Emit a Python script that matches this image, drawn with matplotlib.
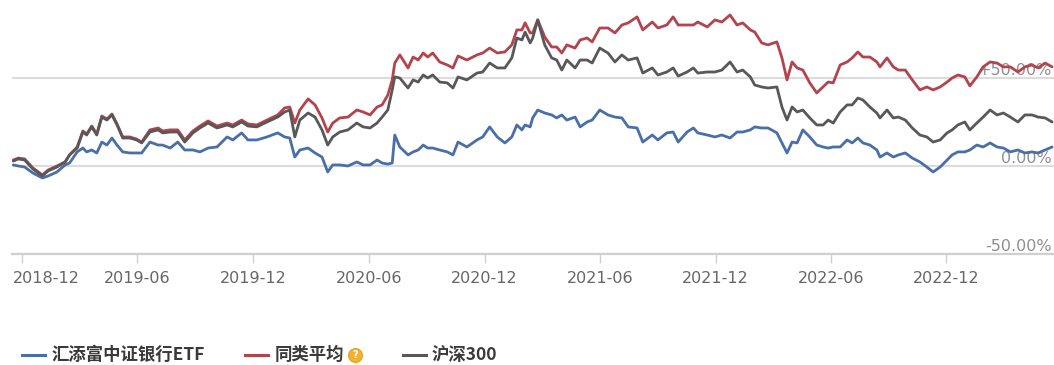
import matplotlib
matplotlib.use("Agg")
import matplotlib.pyplot as plt
import matplotlib.dates as mdates
import matplotlib.transforms as mtransforms
from matplotlib.lines import Line2D
import pandas as pd

# ---------------- data (cumulative return, %) ----------------
dates = [
    "2018-11-17", "2018-11-25", "2018-12-05", "2018-12-18", "2019-01-02", "2019-01-11", "2019-01-25", "2019-02-07", "2019-02-14", "2019-02-26",
    "2019-03-07", "2019-03-13", "2019-03-21", "2019-03-29", "2019-04-06", "2019-04-14", "2019-04-22", "2019-04-30", "2019-05-09", "2019-05-20",
    "2019-05-31", "2019-06-08", "2019-06-21", "2019-07-04", "2019-07-11", "2019-07-23", "2019-08-04", "2019-08-15", "2019-08-28", "2019-09-08",
    "2019-09-21", "2019-10-05", "2019-10-21", "2019-10-30", "2019-11-13", "2019-11-23", "2019-12-07", "2019-12-23", "2020-01-09", "2020-01-20",
    "2020-01-28", "2020-02-05", "2020-02-13", "2020-02-26", "2020-03-08", "2020-03-19", "2020-03-28", "2020-04-05", "2020-04-16", "2020-04-29",
    "2020-05-13", "2020-05-23", "2020-06-03", "2020-06-14", "2020-06-22", "2020-07-01", "2020-07-08", "2020-07-12", "2020-07-20", "2020-08-02",
    "2020-08-10", "2020-08-18", "2020-08-26", "2020-09-02", "2020-09-10", "2020-09-21", "2020-10-03", "2020-10-12", "2020-10-20", "2020-11-03",
    "2020-11-19", "2020-11-28", "2020-12-09", "2020-12-21", "2021-01-02", "2021-01-13", "2021-01-21", "2021-01-29", "2021-02-03", "2021-02-11",
    "2021-02-15", "2021-02-23", "2021-03-06", "2021-03-17", "2021-03-25", "2021-04-02", "2021-04-10", "2021-04-23", "2021-05-01", "2021-05-12",
    "2021-05-20", "2021-06-01", "2021-06-14", "2021-06-25", "2021-07-06", "2021-07-16", "2021-07-30", "2021-08-08", "2021-08-23", "2021-09-01",
    "2021-09-15", "2021-09-25", "2021-10-03", "2021-10-17", "2021-10-27", "2021-11-03", "2021-11-18", "2021-11-30", "2021-12-11", "2021-12-24",
    "2022-01-04", "2022-01-13", "2022-01-25", "2022-02-01", "2022-02-12", "2022-02-22", "2022-03-08", "2022-03-16", "2022-03-24", "2022-04-01",
    "2022-04-09", "2022-04-18", "2022-04-29", "2022-05-10", "2022-05-20", "2022-05-28", "2022-06-05", "2022-06-16", "2022-06-27", "2022-07-05",
    "2022-07-14", "2022-07-22", "2022-08-02", "2022-08-13", "2022-08-18", "2022-08-29", "2022-09-08", "2022-09-16", "2022-09-27", "2022-10-08",
    "2022-10-20", "2022-10-31", "2022-11-10", "2022-11-21", "2022-12-02", "2022-12-10", "2022-12-19", "2022-12-30", "2023-01-07", "2023-01-18",
    "2023-01-28", "2023-02-08", "2023-02-19", "2023-03-01", "2023-03-12", "2023-03-24", "2023-04-04", "2023-04-15", "2023-04-25", "2023-05-06",
    "2023-05-17",
]

etf = [  # 汇添富中证银行ETF
    0.6, 0.0, -0.6, -4.0, -6.8, -5.7, -3.4, 0.6, 1.7, 8.0,
    10.2, 8.0, 9.1, 7.4, 13.6, 11.9, 15.9, 11.9, 8.0, 7.4,
    7.4, 7.4, 13.6, 11.9, 11.9, 10.2, 13.6, 9.1, 9.1, 8.0,
    10.2, 10.8, 16.5, 14.8, 18.8, 14.8, 14.8, 16.5, 18.8, 16.5,
    15.9, 5.1, 9.1, 10.2, 7.4, 5.1, -3.4, 0.6, 0.6, 0.0,
    2.3, 0.6, 0.6, 3.4, 1.7, 1.1, 1.7, 17.6, 10.8, 6.3,
    8.0, 9.1, 11.9, 10.2, 10.2, 9.1, 8.0, 6.3, 13.6, 10.8,
    14.8, 16.5, 22.2, 16.5, 13.1, 16.5, 23.3, 20.5, 23.3, 22.2,
    27.3, 31.8, 30.1, 29.0, 27.3, 29.0, 26.1, 27.8, 22.2, 25.0,
    26.1, 31.8, 29.0, 27.8, 27.3, 22.2, 21.6, 13.6, 17.6, 14.8,
    18.8, 19.3, 13.6, 19.3, 21.6, 18.8, 17.6, 16.5, 17.6, 15.9,
    19.3, 19.3, 20.5, 22.2, 21.6, 21.6, 18.8, 13.1, 7.4, 13.6,
    13.1, 20.5, 16.5, 11.9, 10.8, 10.2, 10.8, 10.8, 14.8, 13.1,
    15.9, 13.1, 11.9, 9.1, 5.1, 7.4, 5.1, 6.3, 7.4, 4.5,
    2.3, -0.6, -3.4, -0.6, 3.4, 6.3, 8.0, 8.0, 9.1, 11.9,
    10.8, 13.1, 10.8, 10.2, 8.0, 9.1, 7.4, 8.0, 7.4, 9.1,
    10.8,
]

peer_avg = [  # 同类平均
    3.4, 4.5, 4.0, -1.1, -5.1, -2.3, 0.0, 2.3, 6.3, 10.8,
    19.9, 18.2, 22.7, 18.2, 28.4, 26.7, 29.5, 23.9, 16.5, 16.5,
    15.3, 13.6, 20.5, 21.6, 19.9, 20.5, 20.5, 14.8, 19.9, 22.7,
    25.6, 22.7, 24.4, 23.3, 26.1, 23.9, 23.3, 26.1, 29.0, 33.0,
    33.5, 24.4, 31.8, 38.1, 34.7, 27.3, 19.3, 24.4, 27.3, 27.8,
    31.8, 30.7, 29.0, 33.5, 34.7, 40.3, 48.9, 58.5, 63.1, 55.7,
    61.9, 60.2, 64.2, 61.9, 64.2, 59.1, 57.4, 55.7, 62.5, 60.2,
    63.1, 64.2, 67.0, 64.2, 64.8, 68.8, 77.3, 77.3, 81.3, 75.6,
    75.6, 83.0, 73.3, 67.6, 67.6, 64.2, 68.8, 67.0, 71.6, 72.7,
    70.5, 78.4, 78.4, 75.6, 80.1, 81.3, 84.7, 77.3, 81.8, 78.4,
    80.1, 84.7, 80.1, 80.1, 80.1, 81.8, 79.0, 83.0, 81.8, 85.8,
    80.1, 81.3, 77.3, 76.1, 69.9, 68.8, 70.5, 61.4, 48.9, 59.1,
    55.7, 54.5, 47.2, 41.5, 44.9, 47.7, 47.2, 57.4, 59.1, 61.4,
    64.8, 61.9, 61.9, 59.1, 56.3, 61.4, 56.3, 54.5, 54.5, 48.9,
    43.2, 44.9, 43.2, 44.9, 47.7, 50.0, 51.7, 50.6, 45.5, 50.6,
    56.3, 59.1, 58.5, 56.3, 56.3, 53.4, 56.3, 57.4, 55.7, 58.5,
    56.3,
]

hs300 = [  # 沪深300
    2.8, 4.0, 3.4, -1.7, -5.7, -2.8, -0.6, 2.3, 6.3, 10.2,
    19.3, 17.6, 22.2, 17.6, 27.8, 26.1, 29.0, 23.3, 15.9, 15.9,
    14.8, 13.1, 19.3, 20.5, 18.8, 19.3, 19.3, 13.6, 18.8, 21.6,
    24.4, 21.6, 23.3, 22.2, 25.0, 22.7, 22.2, 25.0, 27.8, 30.7,
    31.8, 16.5, 26.1, 30.1, 27.8, 20.5, 11.9, 16.5, 19.3, 20.5,
    24.4, 22.2, 21.6, 24.4, 27.8, 31.8, 43.2, 50.6, 50.0, 44.3,
    48.9, 47.7, 51.7, 50.0, 51.7, 47.7, 47.2, 44.3, 50.6, 48.9,
    52.8, 53.4, 58.5, 55.7, 55.7, 61.4, 72.7, 71.6, 76.1, 69.9,
    72.7, 83.0, 68.8, 61.4, 60.2, 54.5, 60.2, 55.7, 60.2, 60.2,
    58.5, 67.0, 64.2, 59.1, 63.1, 60.2, 61.4, 52.8, 55.7, 51.7,
    53.4, 55.7, 51.1, 53.4, 55.7, 52.8, 53.4, 53.4, 54.5, 59.1,
    53.4, 54.5, 50.6, 46.0, 44.9, 44.3, 44.9, 33.5, 26.1, 33.5,
    30.7, 31.8, 27.3, 23.3, 23.3, 26.1, 24.4, 30.7, 34.7, 34.7,
    38.6, 37.5, 33.5, 30.1, 27.3, 31.8, 27.3, 27.8, 26.1, 21.6,
    17.6, 16.5, 13.6, 14.8, 18.8, 20.5, 23.3, 25.0, 20.5, 24.4,
    27.8, 31.8, 29.0, 30.1, 27.8, 25.0, 29.0, 29.0, 27.8, 27.3,
    25.0,
]

series_names = ["汇添富中证银行ETF", "同类平均", "沪深300"]
series_colors = ["#4a6ea8", "#b3434c", "#585858"]

x_tick_dates = ["2018-12-01", "2019-06-01", "2019-12-01", "2020-06-01", "2020-12-01",
                "2021-06-01", "2021-12-01", "2022-06-01", "2022-12-01"]
x_tick_labels = ["2018-12", "2019-06", "2019-12", "2020-06", "2020-12",
                 "2021-06", "2021-12", "2022-06", "2022-12"]
y_ticks = [-50, 0, 50]
y_tick_labels = ["-50.00%", "0.00%", "+50.00%"]
x_range = ("2018-11-15", "2023-05-20")
y_range = (-50, 94.3)

# ---------------- figure ----------------
W, H = 1054, 365
fig = plt.figure(figsize=(W / 100, H / 100), dpi=100)
fig.patch.set_facecolor("white")
ax = fig.add_axes([12 / W, 111 / H, 1042 / W, 254 / H])
ax.set_facecolor("white")

d = pd.to_datetime(dates)
for vals, col in zip([etf, peer_avg, hs300], series_colors):
    ax.plot(d, vals, color=col, lw=2.0, zorder=3,
            solid_joinstyle="round", solid_capstyle="round")

ax.set_xlim(pd.to_datetime(x_range[0]), pd.to_datetime(x_range[1]))
ax.set_ylim(*y_range)

# grid / spines
ax.set_yticks(y_ticks)
ax.yaxis.grid(True, color="#dcdcdc", lw=1.5)
ax.set_axisbelow(True)
ax.tick_params(axis="y", length=0, labelleft=False)
for s in ["left", "right", "top"]:
    ax.spines[s].set_visible(False)
ax.spines["bottom"].set_color("#cfcfcf")
ax.spines["bottom"].set_linewidth(1.6)

# x ticks
ax.set_xticks(pd.to_datetime(x_tick_dates))
ax.set_xticklabels(x_tick_labels)
ax.tick_params(axis="x", length=6.5, width=1, color="#d0d0d0", pad=6,
               labelsize=11.5, labelcolor="#666666")
first = ax.get_xticklabels()[0]
first.set_horizontalalignment("left")
first.set_transform(first.get_transform() +
                    mtransforms.ScaledTranslation(-9 / 100, 0, fig.dpi_scale_trans))

# y labels inside the plot on the right
ytr = ax.get_yaxis_transform()
for v, lab in zip(y_ticks, y_tick_labels):
    ax.text(0.998, v, lab, transform=ytr, ha="right", va="bottom",
            fontsize=11.5, color="#8f8f8f", zorder=1.5)

# ---------------- legend ----------------
def fx(px):
    return px / W

def fy(py):
    return (H - py) / H

leg_y = 355
cjk = ["Noto Sans CJK SC", "DejaVu Sans"]
legend_items = [(22, 45, 52), (245, 268, 275), (403, 426, 432)]
for (x0, x1, tx), name, col in zip(legend_items, series_names, series_colors):
    fig.add_artist(Line2D([fx(x0), fx(x1)], [fy(leg_y), fy(leg_y)],
                          transform=fig.transFigure, color=col, lw=2.2))
    fig.text(fx(tx), fy(leg_y), name, family=cjk, fontsize=12.5, fontweight="bold",
             color="#3a3a3a", ha="left", va="center")

# small gold "?" badge after 同类平均
fig.add_artist(Line2D([fx(355)], [fy(leg_y)], transform=fig.transFigure,
                      marker="o", markersize=10, markerfacecolor="#f2b134",
                      markeredgecolor="#e8a020", markeredgewidth=0.8, linestyle="none"))
fig.text(fx(355), fy(leg_y + 0.5), "?", fontsize=7, fontweight="bold",
         color="white", ha="center", va="center")

fig.savefig("out.png", dpi=100, facecolor="white")
